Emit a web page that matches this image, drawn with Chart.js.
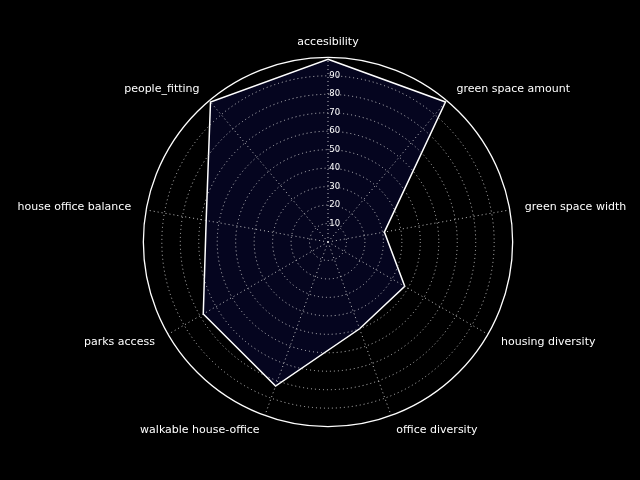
<!DOCTYPE html>
<html>
<head>
<meta charset="utf-8">
<script src="https://cdn.jsdelivr.net/npm/chart.js@4"></script>
<style>
  html, body { margin: 0; padding: 0; background: #000; }
  #wrap { width: 640px; height: 480px; }
</style>
</head>
<body>
<div id="wrap"><canvas id="c" width="640" height="480"></canvas></div>
<script>
const categories = ['accesibility', 'green space amount', 'green space width', 'housing diversity',
  'office diversity', 'walkable house-office', 'parks access', 'house office balance', 'people_fitting'];
const values = [99, 99, 31, 48, 50, 83, 78, 67, 99];
const tickValues = [10, 20, 30, 40, 50, 60, 70, 80, 90];
const rMin = 0, rMax = 100, rStep = 10;

new Chart(document.getElementById('c'), {
  type: 'radar',
  data: {
    labels: categories,
    datasets: [{
      data: values,
      borderColor: '#ffffff',
      borderWidth: 1.5,
      backgroundColor: 'rgb(5,5,31)',
      fill: true,
      pointRadius: 0,
      pointHoverRadius: 0,
      tension: 0
    }]
  },
  options: {
    responsive: false,
    animation: false,
    devicePixelRatio: 1,
    layout: { padding: { top: 38, bottom: 41, left: 12, right: 0 } },
    plugins: { legend: { display: false }, tooltip: { enabled: false } },
    scales: {
      r: {
        min: rMin,
        max: rMax,
        beginAtZero: true,
        ticks: {
          z: 1,
          stepSize: rStep,
          display: true,
          showLabelBackdrop: false,
          color: '#ffffff',
          font: { family: 'DejaVu Sans', size: 8.5 },
          callback: (v) => tickValues.includes(v) ? '     ' + v : ''
        },
        grid: {
          z: 1,
          circular: true,
          color: (ctx) => (ctx.tick && ctx.tick.value === rMax) ? '#ffffff' : 'rgba(200,200,200,0.95)',
          lineWidth: (ctx) => (ctx.tick && ctx.tick.value === rMax) ? 1.3 : 1
        },
        border: {
          dash: (ctx) => (ctx.tick && ctx.tick.value === rMax) ? [] : [1, 3]
        },
        angleLines: {
          display: true,
          color: 'rgba(200,200,200,0.95)',
          lineWidth: 1,
          borderDash: [1, 3]
        },
        pointLabels: {
          display: true,
          color: '#ffffff',
          padding: 9,
          font: { family: 'DejaVu Sans', size: 11, lineHeight: 0.01 }
        }
      }
    }
  }
});
</script>
</body>
</html>
